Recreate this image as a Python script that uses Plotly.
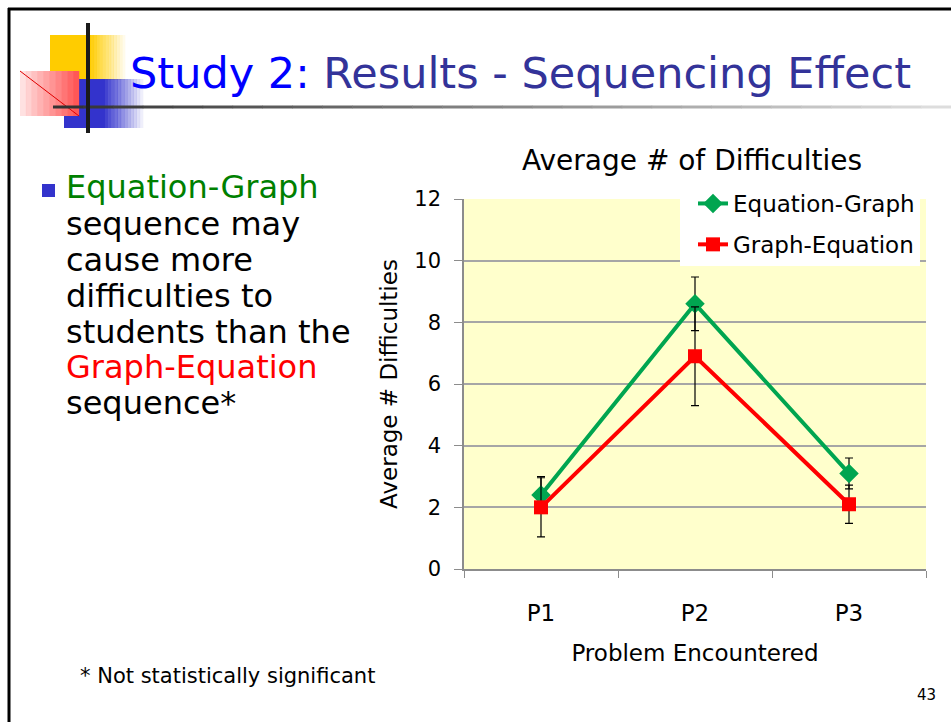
import plotly.graph_objects as go

categories = ["P1", "P2", "P3"]
eq_graph = [2.4, 8.6, 3.1]
eq_graph_err = [0.6, 0.87, 0.5]
graph_eq = [2.0, 6.9, 2.1]
graph_eq_err = [0.96, 1.6, 0.62]
y_ticks = [0, 2, 4, 6, 8, 10, 12]

W, H = 951, 722
FONT = "DejaVu Sans, Verdana, sans-serif"
GREEN = "#00A550"
RED = "#FF0000"


def px(x):
    return x / W


def py(y):
    return 1 - y / H


fig = go.Figure()
fig.add_trace(go.Scatter(
    x=categories, y=eq_graph, name="Equation-Graph", mode="lines+markers",
    line=dict(color=GREEN, width=4),
    marker=dict(symbol="diamond", size=15, color=GREEN),
    error_y=dict(type="data", array=eq_graph_err, color="black", thickness=1.2, width=4),
    legendgroup="a",
))
fig.add_trace(go.Scatter(
    x=categories, y=graph_eq, name="Graph-Equation", mode="lines+markers",
    line=dict(color=RED, width=4),
    marker=dict(symbol="square", size=14, color=RED),
    error_y=dict(type="data", array=graph_eq_err, color="black", thickness=1.2, width=4),
    legendgroup="b",
))

shapes = []
# slide border
shapes.append(dict(type="line", xref="paper", yref="paper", x0=px(8), x1=1.01, y0=py(9), y1=py(9),
                   line=dict(color="black", width=3)))
shapes.append(dict(type="line", xref="paper", yref="paper", x0=px(9), x1=px(9), y0=py(8), y1=-0.01,
                   line=dict(color="black", width=3)))


def rect(x0, y0, x1, y1, color, opacity=1.0):
    shapes.append(dict(type="rect", xref="paper", yref="paper", x0=px(x0), x1=px(x1),
                       y0=py(y1), y1=py(y0), fillcolor=color, opacity=opacity,
                       line=dict(width=0), layer="above"))


# yellow square with fade
rect(50, 35, 91, 80, "#FFCC00")
n = 12
for i in range(n):
    a = 91 + i * 34 / n
    rect(a, 35, a + 34 / n + 0.3, 80, "#FFCC00", 1 - (i + 1) / (n + 1))
# blue square with fade
rect(64, 79, 105, 128, "#3333CC")
for i in range(n):
    a = 105 + i * 38 / n
    rect(a, 79, a + 38 / n + 0.3, 128, "#3333CC", 1 - (i + 1) / (n + 1))
# red gradient square
rect(20, 71, 79, 116, "white")
m = 10
for i in range(m):
    a = 20 + i * 59 / m
    rect(a, 71, a + 59 / m + 0.2, 116, "#FF3333", 0.15 + 0.75 * i / m)
shapes.append(dict(type="line", xref="paper", yref="paper", x0=px(20), y0=py(71), x1=px(79), y1=py(116),
                   line=dict(color="#E00000", width=1), layer="above"))
# horizontal fading line
k = 30
for i in range(k):
    a = 53 + i * (951 - 53) / k
    g = int(0x33 + (0xDD - 0x33) * i / (k - 1))
    shapes.append(dict(type="line", xref="paper", yref="paper", x0=px(a), x1=px(a + (951 - 53) / k + 0.5),
                       y0=py(107), y1=py(107), line=dict(color=f"rgb({g},{g},{g})", width=3), layer="above"))
# vertical black line
shapes.append(dict(type="line", xref="paper", yref="paper", x0=px(88), x1=px(88), y0=py(23), y1=py(133),
                   line=dict(color="#1A1A1A", width=4), layer="above"))
# bullet
rect(42, 184, 55, 197, "#3333CC")
# white legend backdrop (extends legend box to the left as in the reference)
shapes.append(dict(type="rect", xref="paper", yref="paper", x0=px(680), x1=px(700), y0=py(266), y1=py(186),
                   fillcolor="white", line=dict(width=0), layer="above"))

annotations = []


def text(x, y, s, size, color="black", anchor="left"):
    annotations.append(dict(xref="paper", yref="paper", x=px(x), y=py(y), text=s, showarrow=False,
                            xanchor=anchor, yanchor="middle", font=dict(family=FONT, size=size, color=color)))


text(520, 73, "<span style='color:#0000FF'>Study 2:</span> Results - Sequencing Effect", 43,
     color="#333399", anchor="center")

lines = [
    ("Equation-Graph", "#008000", 187),
    ("sequence may", "black", 224),
    ("cause more", "black", 260),
    ("difficulties to", "black", 296),
    ("students than the", "black", 332),
    ("Graph-Equation", "#FF0000", 367),
    ("sequence*", "black", 403),
]
for s, c, y in lines:
    text(64, y, s, 32, c)

text(692, 160, "Average # of Difficulties", 28, anchor="center")
text(78, 676, "* Not statistically significant", 21)
text(926, 695, "43", 15, anchor="center")

fig.update_layout(
    width=W, height=H,
    margin=dict(l=0, r=0, t=0, b=0, autoexpand=False),
    paper_bgcolor="white",
    plot_bgcolor="#FFFFCC",
    font=dict(family=FONT, size=22, color="black"),
    shapes=shapes,
    annotations=annotations,
    showlegend=True,
    legend=dict(x=px(693), y=py(182), xanchor="left", yanchor="top", bgcolor="white",
                font=dict(family=FONT, size=23), tracegroupgap=8, itemwidth=30,
                traceorder="grouped"),
    xaxis=dict(domain=[px(464), px(926)], range=[-0.5, 2.5], type="category", automargin=False,
               showgrid=False, showline=True, linecolor="#8C8C8C", linewidth=1.5,
               ticks="outside", tickson="boundaries", ticklen=7, tickcolor="#8C8C8C",
               tickfont=dict(family=FONT, size=23), ticklabelstandoff=23,
               title=dict(text="Problem Encountered", font=dict(family=FONT, size=23), standoff=20)),
    yaxis=dict(domain=[py(569), py(199)], range=[0, 12], tickvals=y_ticks, automargin=False,
               showgrid=True, gridcolor="#A6A6A6", gridwidth=1.5, zeroline=False,
               showline=True, linecolor="#8C8C8C", linewidth=1.5,
               ticks="outside", ticklen=8, tickcolor="#8C8C8C",
               tickfont=dict(family=FONT, size=21), ticklabelstandoff=9,
               title=dict(text="Average # Difficulties", font=dict(family=FONT, size=23), standoff=10)),
)

fig.write_html("out.html", post_script="document.body.style.margin='0';",
               config={"displayModeBar": False})
